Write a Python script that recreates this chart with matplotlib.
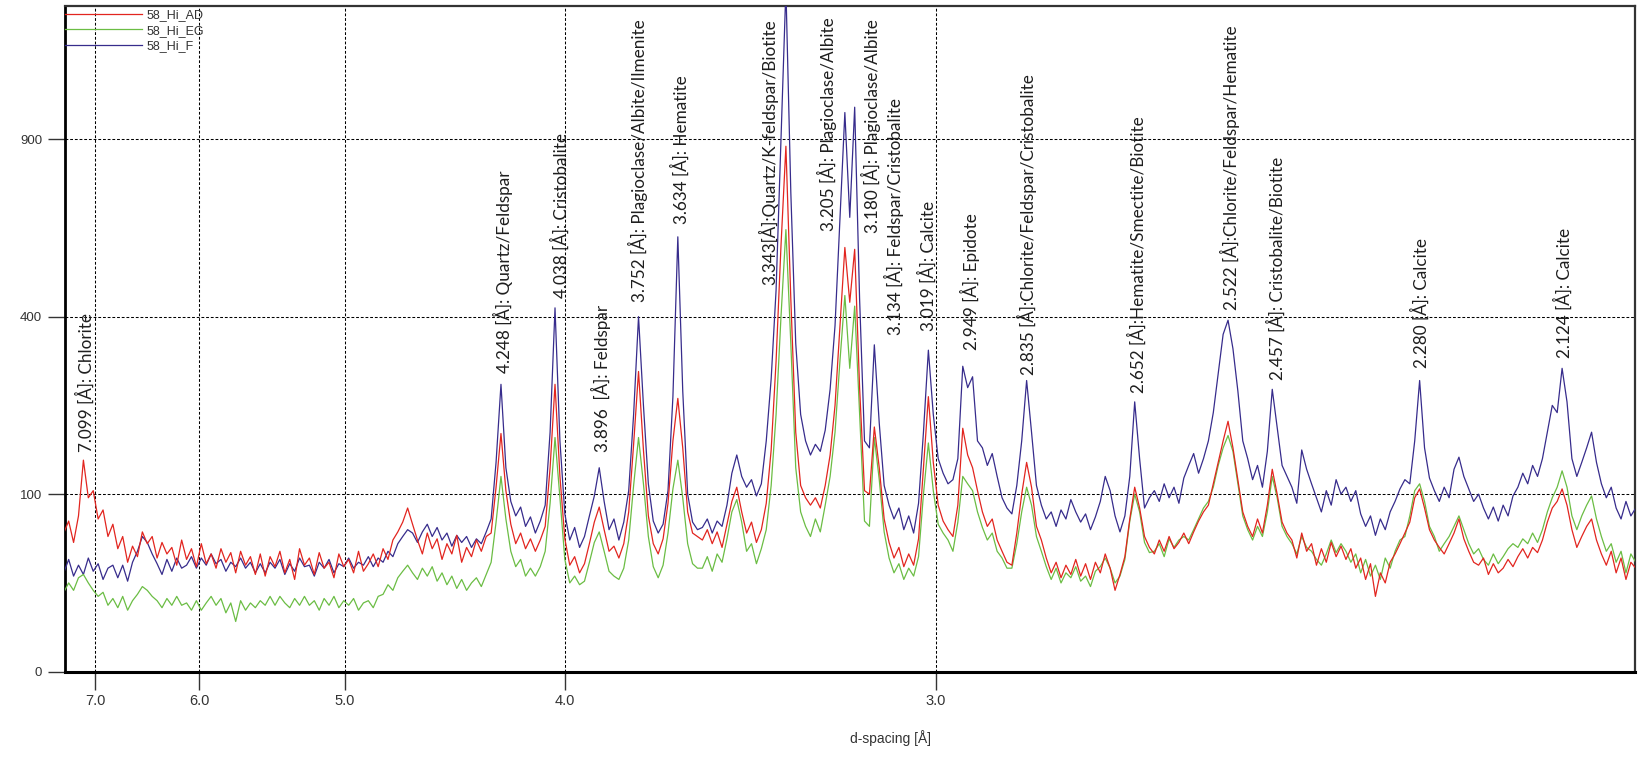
import numpy as np
import matplotlib
matplotlib.use("Agg")
import matplotlib.pyplot as plt

# ---------------- data ----------------
WAVELENGTH = 1.5406  # Cu K-alpha [Å]
# measurement grid in 2-theta (12.0 .. 44.0 deg, 0.1 deg step)
two_theta = np.round(np.linspace(12.0, 44.0, 321), 2)

series_names = ["58_Hi_AD", "58_Hi_EG", "58_Hi_F"]

counts_ad = [
    61, 72, 53, 77, 142, 96, 104, 74, 83, 58, 69,
    48, 58, 38, 50, 42, 62, 52, 58, 41, 53, 44, 49, 36, 55, 40, 48, 35, 52, 37, 44, 34, 48, 38, 45, 31, 46, 36, 42, 30, 44,
    29, 42, 35, 46, 31, 40, 27, 48, 36, 41, 30, 45, 34, 38, 28, 44, 35, 40, 31, 46, 32, 37, 44, 35, 48, 40, 55, 62, 71, 85,
    69, 55, 44, 61, 48, 56, 40, 52, 44, 59, 38, 49, 42, 55, 46, 58,
    61, 108, 180, 104, 69, 52, 61, 48, 56,
    46, 55, 67, 132, 262, 121, 56, 36, 42, 31,
    37, 52, 71, 86, 64, 46, 50, 41,
    52, 81, 164, 286, 156, 77, 52, 44,
    56, 90, 169, 237, 159, 81, 61, 58,
    55, 64, 52, 62, 49, 69, 92, 108, 81, 61, 71, 53, 64,
    90, 156, 306, 576, 876, 441, 182, 110, 96,
    88, 96, 85, 110, 149, 225, 380, 571, 433, 566, 256, 104, 100, 190,
    132, 74, 53, 41, 49, 35, 44, 36,
    56, 132, 240, 139, 88, 72, 64,
    58, 88, 188, 149, 132, 104, 81, 67, 74, 55, 46, 38,
    36, 61, 100, 139, 108, 67, 55,
    41, 31, 38, 28, 36, 30, 40, 29, 37, 27, 38, 31, 44, 34, 21, 30,
    42, 74, 108, 85, 58, 49,
    44, 55, 46, 58, 48, 53, 61, 52, 62, 72, 81,
    88, 112, 139, 169, 199, 159, 117, 81,
    67, 58, 74, 61, 88, 130, 100, 71, 61,
    55, 41, 61, 46, 52, 36, 48, 38, 53, 42, 50,
    40, 48, 34, 41, 27, 37, 18, 31, 25, 38, 44, 52, 61,
    71, 96, 106, 85, 64,
    55, 49, 44, 52, 61, 74, 56, 46, 38, 36, 41, 30, 37, 31,
    34, 40, 35, 42, 48, 41, 49, 45,
    55, 71, 85, 92, 106, 88, 64, 49, 58,
    67, 74, 55, 44, 36, 46, 31, 41, 27, 38, 34,
]

counts_eg = [
    20, 25, 21, 28, 30, 25, 21, 18, 20, 14, 17,
    13, 18, 12, 16, 19, 23, 21, 18, 16, 13, 17, 14, 18, 14, 15, 12, 16, 12, 15, 18, 14, 17, 11, 15, 8, 16, 12, 15, 13, 16,
    14, 18, 14, 18, 15, 13, 17, 14, 18, 14, 16, 12, 17, 14, 18, 13, 16, 14, 17, 12, 15, 16, 13, 18, 19, 24, 21, 28, 32, 36,
    31, 27, 34, 29, 35, 26, 31, 24, 29, 22, 27, 21, 25, 28, 23, 30,
    38, 71, 121, 74, 46, 35, 40, 29, 34,
    29, 35, 46, 90, 174, 96, 40, 25, 29, 24,
    26, 38, 53, 62, 46, 32, 29, 27,
    34, 55, 110, 174, 112, 58, 35, 28,
    36, 61, 106, 142, 96, 52, 37, 34,
    34, 42, 32, 44, 38, 56, 81, 94, 71, 46, 52, 37, 48,
    64, 110, 210, 400, 620, 342, 132, 81, 67,
    58, 74, 62, 88, 121, 182, 306, 449, 292, 424, 210, 72, 67, 174,
    117, 62, 41, 31, 37, 27, 34, 29,
    42, 100, 166, 104, 69, 61, 55,
    46, 71, 121, 112, 104, 81, 66, 55, 61, 46, 41, 34,
    34, 52, 81, 108, 88, 58, 46,
    35, 27, 34, 25, 31, 28, 35, 26, 29, 23, 32, 35, 41, 34, 25, 29,
    40, 72, 100, 81, 53, 45,
    46, 52, 42, 56, 49, 55, 58, 55, 64, 74, 85,
    92, 108, 135, 159, 177, 154, 112, 77,
    64, 55, 67, 58, 81, 121, 96, 67, 58,
    52, 44, 58, 49, 46, 40, 36, 44, 55, 45, 52,
    46, 38, 44, 31, 40, 29, 36, 27, 41, 34, 46, 55, 58,
    77, 104, 112, 92, 67,
    58, 46, 52, 58, 67, 77, 64, 52, 44, 48, 40, 36, 44, 37,
    42, 48, 52, 49, 56, 52, 61, 53,
    64, 81, 96, 108, 128, 108, 77, 64, 77,
    88, 98, 74, 58, 46, 52, 38, 46, 31, 44, 38,
]

counts_f = [
    31, 40, 29, 36, 30, 41, 32, 37, 27, 34, 36,
    28, 36, 26, 38, 46, 58, 53, 44, 37, 30, 40, 32, 41, 34, 36, 42, 34, 41, 36, 44, 37, 40, 32, 38, 35, 41, 34, 38, 31, 37,
    31, 38, 34, 40, 30, 37, 32, 41, 35, 36, 29, 38, 34, 40, 31, 37, 35, 41, 34, 38, 36, 42, 35, 41, 38, 46, 42, 52, 58, 64,
    61, 53, 62, 69, 58, 66, 55, 61, 50, 59, 53, 58, 49, 56, 52, 62,
    74, 139, 262, 132, 92, 77, 86, 67, 76,
    61, 72, 88, 182, 420, 169, 79, 55, 66, 49,
    58, 77, 98, 132, 92, 64, 74, 55,
    71, 104, 210, 400, 225, 112, 72, 61,
    69, 104, 240, 600, 250, 100, 71, 64,
    66, 74, 61, 72, 67, 88, 125, 149, 121, 108, 117, 98, 112,
    169, 272, 462, 900, 1482, 729, 342, 210, 169,
    149, 164, 154, 185, 253, 380, 650, 992, 655, 1011, 441, 169, 159, 339,
    196, 110, 88, 74, 85, 64, 77, 61,
    90, 182, 328, 210, 144, 125, 112,
    117, 144, 296, 256, 276, 169, 159, 135, 151, 121, 96, 85,
    79, 110, 169, 269, 182, 110, 88,
    74, 81, 67, 83, 74, 94, 81, 71, 79, 64, 76, 92, 121, 104, 77, 62,
    77, 121, 231, 144, 85, 96,
    104, 92, 112, 96, 108, 90, 119, 135, 151, 125, 144,
    169, 213, 282, 361, 392, 331, 250, 169,
    144, 117, 135, 108, 154, 253, 190, 135, 121,
    108, 90, 156, 130, 112, 96, 81, 104, 88, 117, 100,
    108, 92, 104, 79, 67, 77, 59, 74, 64, 81, 92, 106, 117,
    112, 169, 269, 159, 119,
    104, 92, 108, 96, 130, 146, 121, 106, 92, 100, 85, 74, 86, 72,
    88, 77, 98, 108, 125, 112, 135, 121,
    144, 182, 225, 213, 292, 231, 144, 121, 139,
    159, 182, 139, 112, 96, 108, 85, 74, 92, 77, 85,
]

peak_labels = [
    "7.099 [Å]: Chlorite",
    "4.248 [Å]: Quartz/Feldspar",
    "4.038 [Å]: Cristobalite",
    "3.896  [Å]: Feldspar",
    "3.752 [Å]: Plagioclase/Albite/Ilmenite",
    "3.634 [Å]: Hematite",
    "3.343[Å]:Quartz/K-feldspar/Biotite",
    "3.205 [Å]: Plagioclase/Albite",
    "3.180 [Å]: Plagioclase/Albite",
    "3.134 [Å]: Feldspar/Cristobalite",
    "3.019 [Å]: Calcite",
    "2.949 [Å]: Epidote",
    "2.835 [Å]:Chlorite/Feldspar/Cristobalite",
    "2.652 [Å]:Hematite/Smectite/Biotite",
    "2.522 [Å]:Chlorite/Feldspar/Hematite",
    "2.457 [Å]: Cristobalite/Biotite",
    "2.280 [Å]: Calcite",
    "2.124 [Å]: Calcite",
]

d_ticks = [7.0, 6.0, 5.0, 4.0, 3.0]
d_tick_labels = ["7.0", "6.0", "5.0", "4.0", "3.0"]
y_ticks = [0, 100, 400, 900]
y_tick_labels = ["0", "100", "400", "900"]
x_label = "d-spacing [Å]"

assert len(counts_ad) == len(counts_eg) == len(counts_f) == len(two_theta)

# ---------------- layout ----------------
W, H = 1641, 763
AX_L, AX_R, AX_T, AX_B = 64.5, 1635.0, 6.0, 671.7
X_LIM_D = (7.36, 2.057)
Y_MAX = 1406

# label anchor positions (pixel layout: centre x, bottom y)
label_pos_px = [
    (85, 452), (503, 373), (560, 298), (601, 452), (638, 302), (680, 224),
    (768, 285), (827, 231), (871, 233), (894, 335), (927, 331), (970, 350),
    (1026.5, 375), (1136.7, 393), (1230, 310), (1276, 380), (1420, 368),
    (1563, 358),
]

COL_AD = "#e2251f"
COL_EG = "#6bbd44"
COL_F = "#372c8c"


def d_to_tth(d):
    d = np.asarray(d, dtype=float)
    with np.errstate(all="ignore"):
        r = np.clip(WAVELENGTH / (2.0 * d), -1.0, 1.0)
        return 2.0 * np.degrees(np.arcsin(r))


def tth_to_d(t):
    t = np.asarray(t, dtype=float)
    with np.errstate(all="ignore"):
        return WAVELENGTH / (2.0 * np.sin(np.radians(t / 2.0)))


def sqrt_fwd(y):
    y = np.asarray(y, dtype=float)
    return np.sqrt(np.clip(y, 0, None))


def sqrt_inv(s):
    s = np.asarray(s, dtype=float)
    return s * s


d_values = tth_to_d(two_theta)

fig = plt.figure(figsize=(W / 100, H / 100), dpi=100)
ax = fig.add_axes([AX_L / W, 1 - AX_B / H, (AX_R - AX_L) / W, (AX_B - AX_T) / H])

ax.set_xscale("function", functions=(d_to_tth, tth_to_d))
ax.set_yscale("function", functions=(sqrt_fwd, sqrt_inv))

lw = 0.9
l_f, = ax.plot(d_values, counts_f, color=COL_F, lw=lw, zorder=3)
l_eg, = ax.plot(d_values, counts_eg, color=COL_EG, lw=lw, zorder=4)
l_ad, = ax.plot(d_values, counts_ad, color=COL_AD, lw=lw, zorder=5)

ax.set_xlim(*X_LIM_D)
ax.set_ylim(0, Y_MAX)
# make sure large d-spacings are on the left
if ax.transData.transform((7.0, 1.0))[0] > ax.transData.transform((3.0, 1.0))[0]:
    ax.set_xlim(X_LIM_D[1], X_LIM_D[0])

ax.set_xticks(d_ticks)
ax.set_xticklabels(d_tick_labels)
ax.xaxis.set_minor_locator(matplotlib.ticker.NullLocator())
ax.set_yticks(y_ticks)
ax.set_yticklabels(y_tick_labels)
ax.yaxis.set_minor_locator(matplotlib.ticker.NullLocator())

ax.set_axisbelow(True)
ax.grid(True, color="black", lw=0.75, linestyle=(0, (2.7, 1.8)))

narrow = ["Liberation Sans Narrow", "Liberation Sans", "DejaVu Sans"]
ax.tick_params(axis="y", direction="out", length=12, width=1.0, pad=4,
               labelsize=9.5, labelcolor="#333333", color="#333333")
ax.tick_params(axis="x", direction="out", length=13, width=1.0, pad=3,
               labelsize=10.5, labelcolor="#333333", color="#333333")
for t in ax.get_yticklabels():
    t.set_fontfamily(["Liberation Sans", "DejaVu Sans"])
for t in ax.get_xticklabels():
    t.set_fontfamily(narrow)

ax.spines["left"].set_linewidth(2.0)
ax.spines["left"].set_color("black")
ax.spines["bottom"].set_linewidth(2.2)
ax.spines["bottom"].set_color("black")
for s in ("top", "right"):
    ax.spines[s].set_linewidth(1.6)
    ax.spines[s].set_color("#333333")

leg = ax.legend(handles=[l_ad, l_eg, l_f], labels=series_names,
                loc="upper left", bbox_to_anchor=(0, 1 - 3 / (AX_B - AX_T)),
                frameon=False, borderaxespad=0, borderpad=0,
                handlelength=6.2, handletextpad=0.4, labelspacing=0.3,
                prop={"family": ["Liberation Sans", "DejaVu Sans"], "size": 9})
for t in leg.get_texts():
    t.set_color("#333333")

for text, (px, py) in zip(peak_labels, label_pos_px):
    fx = (px - AX_L) / (AX_R - AX_L)
    fy = (AX_B - py) / (AX_B - AX_T)
    ax.text(fx, fy, text, transform=ax.transAxes, rotation=90,
            ha="center", va="bottom", fontsize=12.3,
            family=["Lato", "DejaVu Sans"], color="#1e1e1e", zorder=6)

fig.text(890 / W, 1 - 738 / H, x_label, ha="center", va="center",
         fontsize=10, family=narrow, color="#333333")

fig.savefig("out.png", dpi=100)
